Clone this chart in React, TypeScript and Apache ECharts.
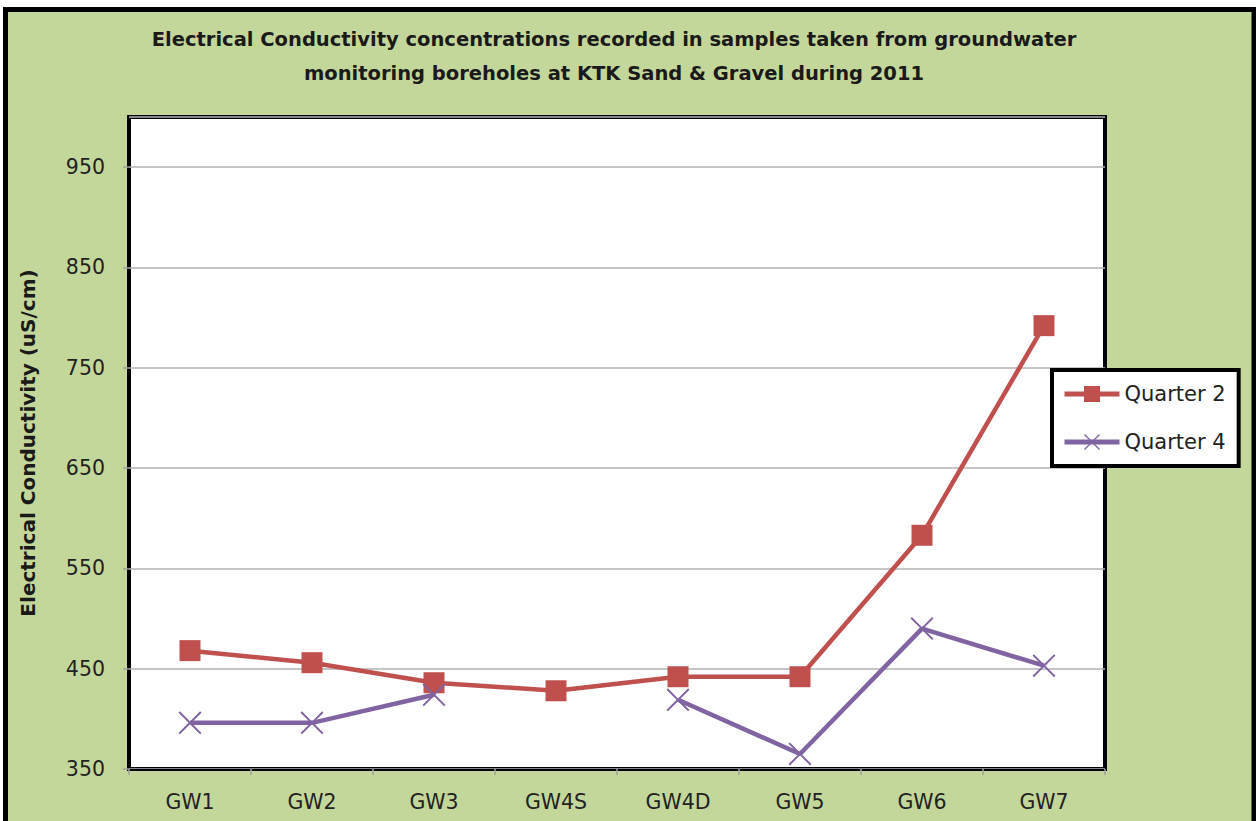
import React, { useEffect, useRef } from "react";
import * as echarts from "echarts";

const categories = ["GW1", "GW2", "GW3", "GW4S", "GW4D", "GW5", "GW6", "GW7"];
const quarter2 = [468, 456, 436, 428, 442, 442, 583, 792];
const quarter4: (number | null)[] = [396, 396, 424, null, 419, 365, 490, 453];
const yMin = 350;
const yMax = 1000;
const yStep = 100;

const titleText =
  "Electrical Conductivity concentrations recorded in samples taken from groundwater\nmonitoring boreholes at KTK Sand & Gravel during 2011";

const crossPath =
  "path://M0,1.2 L1.2,0 L10,8.8 L18.8,0 L20,1.2 L11.2,10 L20,18.8 L18.8,20 L10,11.2 L1.2,20 L0,18.8 L8.8,10 Z";

export default function App() {
  const ref = useRef<HTMLDivElement>(null);

  useEffect(() => {
    document.body.style.margin = "0";
    if (!ref.current) return;
    const chart = echarts.init(ref.current, undefined, { renderer: "svg" });
    const font = "DejaVu Sans";
    chart.setOption({
      animation: false,
      backgroundColor: "#ffffff",
      graphic: [
        {
          type: "rect",
          z: -10,
          silent: true,
          shape: { x: 5.5, y: 9.5, width: 1248.5, height: 900 },
          style: { fill: "#C4D79B", stroke: "#000000", lineWidth: 5 },
        },
      ],
      title: {
        text: titleText,
        left: 609,
        top: 17,
        textAlign: "center",
        textStyle: {
          fontFamily: font,
          fontWeight: "bold",
          fontSize: 19.5,
          lineHeight: 34,
          color: "#1a1a1a",
        },
      },
      legend: {
        orient: "vertical",
        left: 1052,
        top: 370,
        backgroundColor: "#ffffff",
        borderColor: "#000000",
        borderWidth: 4,
        padding: [12, 13, 12, 10],
        itemWidth: 55,
        itemHeight: 20,
        itemGap: 24,
        lineStyle: { width: 5 },
        textStyle: {
          fontFamily: font,
          fontSize: 21,
          lineHeight: 24,
          color: "#222222",
        },
        data: ["Quarter 2", "Quarter 4"],
      },
      grid: {
        left: 129,
        top: 117,
        right: 151,
        bottom: 52,
        show: true,
        backgroundColor: "#ffffff",
        borderColor: "#000000",
        borderWidth: 4,
        containLabel: false,
      },
      xAxis: {
        type: "category",
        data: categories,
        boundaryGap: true,
        axisLine: { show: true, lineStyle: { color: "#000000", width: 1 } },
        axisTick: {
          show: true,
          inside: false,
          length: 6,
          lineStyle: { color: "#a0a0a0", width: 1.5 },
        },
        axisLabel: {
          fontFamily: font,
          fontSize: 20.5,
          color: "#222222",
          margin: 22,
        },
        splitLine: { show: false },
      },
      yAxis: {
        type: "value",
        min: yMin,
        max: yMax,
        interval: yStep,
        name: "Electrical Conductivity (uS/cm)",
        nameLocation: "middle",
        nameGap: 91,
        nameTextStyle: {
          fontFamily: font,
          fontWeight: "bold",
          fontSize: 20,
          color: "#1a1a1a",
        },
        axisLine: { show: false },
        axisTick: {
          show: true,
          inside: false,
          length: 6,
          lineStyle: { color: "#a0a0a0", width: 1.5 },
        },
        axisLabel: {
          fontFamily: font,
          fontSize: 20.5,
          color: "#222222",
          margin: 24,
          showMaxLabel: false,
          formatter: (v: number) => (v >= yMax ? "" : String(v)),
        },
        splitLine: { show: true, lineStyle: { color: "#b3b3b3", width: 1.5 } },
      },
      series: [
        {
          name: "Quarter 2",
          type: "line",
          data: quarter2,
          symbol: "rect",
          symbolSize: 21,
          color: "#C0504D",
          lineStyle: { color: "#C0504D", width: 4.5 },
          itemStyle: { color: "#C0504D" },
          z: 3,
        },
        {
          name: "Quarter 4",
          type: "line",
          data: quarter4,
          symbol: crossPath,
          symbolSize: 23,
          connectNulls: false,
          color: "#8064A2",
          lineStyle: { color: "#8064A2", width: 4.5 },
          itemStyle: { color: "#8064A2" },
          z: 4,
        },
      ],
    });
    return () => chart.dispose();
  }, []);

  return <div ref={ref} style={{ width: 1256, height: 821 }} />;
}
